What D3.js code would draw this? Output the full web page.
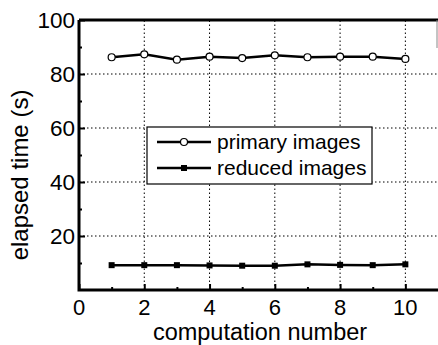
<!DOCTYPE html>
<html>
<head>
<meta charset="utf-8">
<script src="https://cdn.jsdelivr.net/npm/d3@7"></script>
<style>
  body { margin: 0; background: #fff; }
  text { font-family: "Liberation Sans", Arial, sans-serif; fill: #000; }
</style>
</head>
<body>
<svg id="svg" width="438" height="345"></svg>
<script>
const runs = [1, 2, 3, 4, 5, 6, 7, 8, 9, 10];
const primary = [86.2, 87.3, 85.3, 86.4, 85.9, 86.9, 86.2, 86.4, 86.4, 85.6];
const reduced = [9.2, 9.2, 9.2, 9.1, 9.0, 9.0, 9.5, 9.3, 9.2, 9.5];
const xTicks = [0, 2, 4, 6, 8, 10];
const yTicks = [20, 40, 60, 80, 100];

const svg = d3.select('#svg');
const x = d3.scaleLinear().domain([0, 11]).range([79, 438]);
const y = d3.scaleLinear().domain([0, 100]).range([290, 20]);

// dotted grid
const grid = svg.append('g')
    .attr('stroke', '#000')
    .attr('stroke-width', 1)
    .attr('stroke-dasharray', '1.5,2.5');
grid.selectAll('.gx').data(xTicks.filter(d => d > 0))
    .join('line')
    .attr('x1', d => x(d)).attr('x2', d => x(d))
    .attr('y1', y(0)).attr('y2', y(100));
grid.selectAll('.gy').data(yTicks.filter(d => d < 100))
    .join('line')
    .attr('x1', x(0)).attr('x2', x(11))
    .attr('y1', d => y(d)).attr('y2', d => y(d));

// axes with inward ticks
const xAxis = svg.append('g')
    .attr('transform', `translate(0,${y(0)})`)
    .call(d3.axisTop(x).tickValues(xTicks).tickSize(6).tickFormat(''));
const xMinor = svg.append('g')
    .attr('transform', `translate(0,${y(0)})`)
    .call(d3.axisTop(x).tickValues([1, 3, 5, 7, 9]).tickSize(3).tickFormat(''));
const yAxis = svg.append('g')
    .attr('transform', `translate(${x(0)},0)`)
    .call(d3.axisRight(y).tickValues(yTicks).tickSize(6).tickFormat(''));
const yMinor = svg.append('g')
    .attr('transform', `translate(${x(0)},0)`)
    .call(d3.axisRight(y).tickValues([10, 30, 50, 70, 90]).tickSize(3).tickFormat(''));
[xAxis, xMinor, yAxis, yMinor].forEach(a => {
    a.select('.domain').remove();
    a.selectAll('line').attr('stroke', '#000').attr('stroke-width', 2);
});

// tick labels
svg.selectAll('.xl').data(xTicks)
    .join('text')
    .attr('x', d => x(d))
    .attr('y', 315)
    .attr('text-anchor', 'middle')
    .style('font-size', '22px')
    .text(d => d);
svg.selectAll('.yl').data(yTicks)
    .join('text')
    .attr('x', 75)
    .attr('y', d => y(d) + 8)
    .attr('text-anchor', 'end')
    .style('font-size', '22.5px')
    .text(d => d);

// frame
svg.append('path')
    .attr('d', `M${x(0)},${y(100)}H${x(11)}M${x(0)},${y(100)}V${y(0)}H${x(11)}`)
    .attr('fill', 'none')
    .attr('stroke', '#000')
    .attr('stroke-width', 3);
svg.append('line')
    .attr('x1', 437).attr('x2', 437)
    .attr('y1', y(100)).attr('y2', 48)
    .attr('stroke', '#888')
    .attr('stroke-width', 1);

// series
const line = d3.line().x((d, i) => x(runs[i])).y(d => y(d));
svg.append('path').datum(primary)
    .attr('d', line)
    .attr('fill', 'none').attr('stroke', '#000').attr('stroke-width', 2.5);
svg.selectAll('.pm').data(primary)
    .join('circle')
    .attr('cx', (d, i) => x(runs[i]))
    .attr('cy', d => y(d))
    .attr('r', 3.5)
    .attr('fill', '#fff').attr('stroke', '#000').attr('stroke-width', 1.2);
svg.append('path').datum(reduced)
    .attr('d', line)
    .attr('fill', 'none').attr('stroke', '#000').attr('stroke-width', 2.5);
svg.selectAll('.rm').data(reduced)
    .join('rect')
    .attr('x', (d, i) => x(runs[i]) - 3)
    .attr('y', d => y(d) - 3)
    .attr('width', 6).attr('height', 6)
    .attr('fill', '#000');

// legend
const leg = svg.append('g');
leg.append('rect')
    .attr('x', 147).attr('y', 127)
    .attr('width', 225).attr('height', 57)
    .attr('fill', '#fff').attr('stroke', '#000').attr('stroke-width', 1.2);
const entries = [
    { label: 'primary images', type: 'circle', yy: 142 },
    { label: 'reduced images', type: 'square', yy: 168 }
];
entries.forEach(e => {
    leg.append('line')
        .attr('x1', 157).attr('x2', 211)
        .attr('y1', e.yy).attr('y2', e.yy)
        .attr('stroke', '#000').attr('stroke-width', 2.5);
    if (e.type === 'circle') {
        leg.append('circle').attr('cx', 184).attr('cy', e.yy).attr('r', 3.5)
            .attr('fill', '#fff').attr('stroke', '#000').attr('stroke-width', 1.2);
    } else {
        leg.append('rect').attr('x', 181).attr('y', e.yy - 3)
            .attr('width', 6).attr('height', 6).attr('fill', '#000');
    }
    leg.append('text')
        .attr('x', 217).attr('y', e.yy + 7)
        .style('font-size', '21px')
        .text(e.label);
});

// axis titles
svg.append('text')
    .attr('x', 260).attr('y', 340)
    .attr('text-anchor', 'middle')
    .style('font-size', '23.5px')
    .text('computation number');
svg.append('text')
    .attr('transform', 'translate(28,175) rotate(-90)')
    .attr('text-anchor', 'middle')
    .style('font-size', '24px')
    .text('elapsed time (s)');
</script>
</body>
</html>
